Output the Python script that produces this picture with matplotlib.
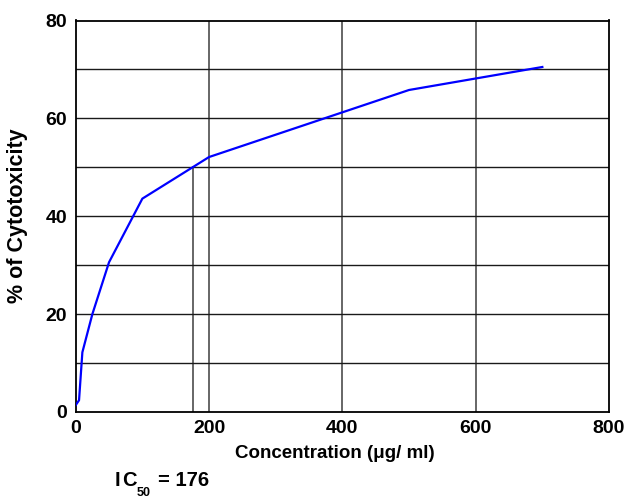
import matplotlib
matplotlib.use("Agg")
import matplotlib.pyplot as plt

conc = [0, 5, 10, 25, 50, 100, 200, 500, 700]
cytotox = [1.4, 2.4, 12.2, 20.0, 30.6, 43.6, 52.1, 65.8, 70.5]
ic50 = 176
ic50_level = 50
xticks = [0, 200, 400, 600, 800]
yticks = [0, 20, 40, 60, 80]
hgrid = [10, 20, 30, 40, 50, 60, 70]
vgrid = [200, 400, 600]

plt.rcParams['font.family'] = ['Liberation Sans', 'DejaVu Sans']
plt.rcParams['font.weight'] = 'bold'

fig = plt.figure(figsize=(6.27, 4.98), dpi=100)
W, H = 627, 498
left, right, top, bottom = 75.7, 609, 20.5, 412
ax = fig.add_axes([left / W, 1 - bottom / H, (right - left) / W, (bottom - top) / H])

for v in vgrid:
    ax.axvline(v, color='#666666', lw=1.4, zorder=1)
ax.plot([ic50, ic50], [0, ic50_level], color='#666666', lw=1.4, zorder=1)
for h in hgrid:
    ax.axhline(h, color='#1a1a1a', lw=1.0, zorder=2)

ax.plot(conc, cytotox, color='#0000ff', lw=1.6, zorder=3)

ax.set_xlim(0, 800)
ax.set_ylim(0, 80)
ax.set_xticks(xticks)
ax.set_yticks(yticks)
ax.tick_params(length=0, labelsize=14, pad=6)
for lab in ax.get_xticklabels() + ax.get_yticklabels():
    lab.set_fontweight('bold')
for s in ax.spines.values():
    s.set_linewidth(1.3)
    s.set_color('black')

fig.text(18 / W, 1 - 216 / H, '% of Cytotoxicity', rotation=90, ha='center', va='center',
         fontsize=15.5, fontweight='bold')
fig.text(335 / W, 1 - 458 / H, 'Concentration (\u03bcg/ ml)', ha='center', va='baseline',
         fontsize=13.5, fontweight='bold')
fig.text(115 / W, 1 - 486 / H, 'I', ha='left', va='baseline', fontsize=14.5, fontweight='bold')
fig.text(122 / W, 1 - 486 / H, 'C', ha='left', va='baseline', fontsize=14.5, fontweight='bold')
fig.text(137 / W, 1 - 495.5 / H, '50', ha='left', va='baseline', fontsize=9, fontweight='bold')
fig.text(158 / W, 1 - 486 / H, '= 176', ha='left', va='baseline', fontsize=14.5, fontweight='bold')

fig.savefig('out.png', dpi=100)
